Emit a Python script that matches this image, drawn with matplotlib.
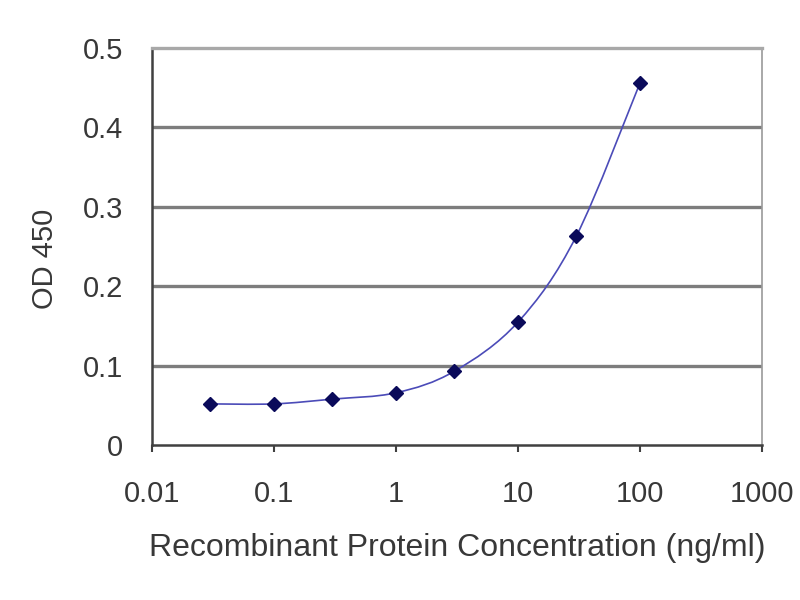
import numpy as np
import matplotlib
matplotlib.use("Agg")
import matplotlib.pyplot as plt
from matplotlib.path import Path
from matplotlib.patches import PathPatch

# ─────────────────────────────────────────────
# Dados
# ─────────────────────────────────────────────
concentration = [0.03, 0.1, 0.3, 1, 3, 10, 30, 100]
od450 = [0.052, 0.052, 0.058, 0.066, 0.093, 0.155, 0.263, 0.456]

x_ticks = [0.01, 0.1, 1, 10, 100, 1000]
x_tick_labels = ["0.01", "0.1", "1", "10", "100", "1000"]
y_ticks = [0, 0.1, 0.2, 0.3, 0.4, 0.5]
y_tick_labels = ["0", "0.1", "0.2", "0.3", "0.4", "0.5"]

plt.rcParams["font.family"] = ["Liberation Sans", "DejaVu Sans"]
TEXT = "#383838"


def smooth_path(xs, ys):
    """Curva suave (Catmull-Rom -> Bezier) em espaço log-x, como no Excel."""
    lx = np.log10(xs)
    ys = np.asarray(ys, dtype=float)
    n = len(lx)
    verts = [(xs[0], ys[0])]
    codes = [Path.MOVETO]
    for i in range(n - 1):
        p0 = max(i - 1, 0)
        p3 = min(i + 2, n - 1)
        c1x = lx[i] + (lx[i + 1] - lx[p0]) / 6
        c1y = ys[i] + (ys[i + 1] - ys[p0]) / 6
        c2x = lx[i + 1] - (lx[p3] - lx[i]) / 6
        c2y = ys[i + 1] - (ys[p3] - ys[i]) / 6
        verts += [(10 ** c1x, c1y), (10 ** c2x, c2y), (xs[i + 1], ys[i + 1])]
        codes += [Path.CURVE4] * 3
    return Path(verts, codes)


fig = plt.figure(figsize=(8, 6), dpi=100)
ax = fig.add_axes([0.19, 0.258, 0.7625, 0.662])
ax.set_xscale("log")
ax.set_xlim(0.01, 1000)
ax.set_ylim(0, 0.5)

# linhas de grade horizontais
for y in y_ticks[1:-1]:
    ax.axhline(y, color="#7d7d7d", lw=2.4, zorder=1)

ax.add_patch(PathPatch(smooth_path(concentration, od450), facecolor="none",
                       edgecolor="#4b4bb8", lw=1.2, zorder=3))
ax.plot(concentration, od450, linestyle="none", marker="D", ms=7,
        color="#0a0a5a", zorder=4)

ax.set_xticks(x_ticks)
ax.set_xticklabels(x_tick_labels)
ax.xaxis.set_minor_locator(matplotlib.ticker.NullLocator())
ax.set_yticks(y_ticks)
ax.set_yticklabels(y_tick_labels)
ax.tick_params(axis="x", direction="out", length=5, width=1.5, color="#404040",
               labelsize=21, labelcolor=TEXT, pad=20)
ax.tick_params(axis="y", length=0, labelsize=21, labelcolor=TEXT, pad=21)

for side in ["left", "bottom"]:
    ax.spines[side].set_color("#404040")
    ax.spines[side].set_linewidth(1.8)
ax.spines["top"].set_color("#a8a8a8")
ax.spines["top"].set_linewidth(2.4)
ax.spines["right"].set_color("#9a9a9a")
ax.spines["right"].set_linewidth(1.2)

ax.set_xlabel("Recombinant Protein Concentration (ng/ml)", fontsize=23,
              color=TEXT)
ax.set_ylabel("OD 450", fontsize=21, color=TEXT)
ax.yaxis.set_label_coords(-0.153, 0.47)
ax.xaxis.set_label_coords(0.50, -0.222)

plt.savefig("out.png", dpi=100)
plt.close()
